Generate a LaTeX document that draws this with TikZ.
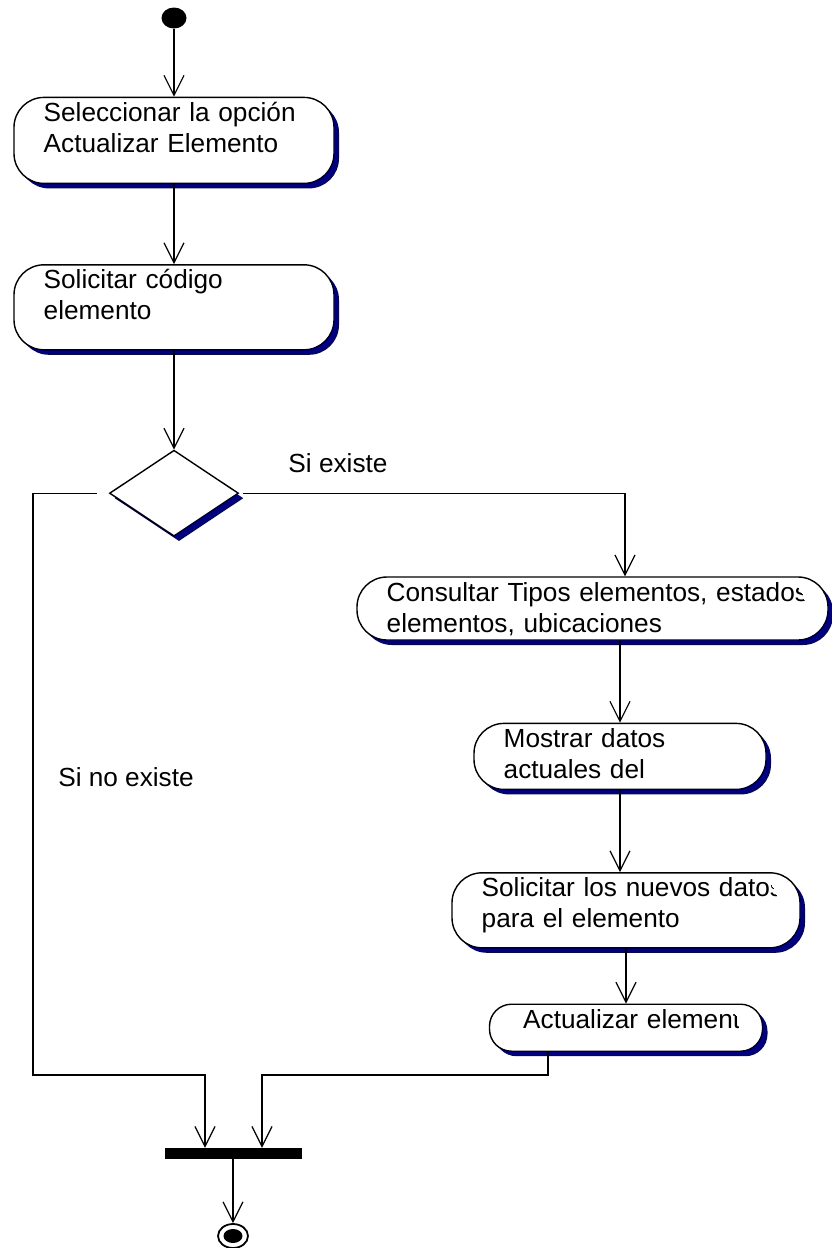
\documentclass[tikz,border=0pt]{standalone}
\usepackage{fontspec}
\setmainfont{Liberation Sans}
\usetikzlibrary{shapes.geometric, arrows.meta, positioning, shadows}
\definecolor{umlnavy}{HTML}{000080}

\begin{document}
\begin{tikzpicture}[x=1pt, y=1pt,
        txtx/.store in=\acttxtx, txtx=29pt,
        txtclip/.store in=\acttxtclip, txtclip=23pt,
        act/.style={rectangle, rounded corners=30pt, draw, line width=1.4pt, fill=white, inner sep=0pt, drop shadow={shadow xshift=5pt, shadow yshift=-5pt, fill=umlnavy, opacity=1}},
        acttext/.style={path picture={
            \clip (path picture bounding box.south west) rectangle ([xshift=-\acttxtclip]path picture bounding box.north east);
            \node[anchor=base west, inner sep=0pt, text width=20cm, align=left, font=\fontsize{26.2}{31}\selectfont] at ([shift={(\acttxtx,-24pt)}]path picture bounding box.north west) {#1};}},
        decision/.style={diamond, draw, line width=1.4pt, fill=white, inner sep=0pt, minimum width=129pt, minimum height=86pt, drop shadow={shadow xshift=5pt, shadow yshift=-5pt, fill=umlnavy, opacity=1}},
        bar/.style={rectangle, fill=black, inner sep=0pt, minimum width=137pt, minimum height=11pt},
        flow/.style={-{Straight Barb[length=20pt, width=20pt]}, line width=1.2pt},
        guard/.style={font=\fontsize{26.2}{31}\selectfont, inner sep=0pt}
    ]
    \useasboundingbox (0,0) rectangle (832,-1248);

    \node (start) [ellipse, fill=black, inner sep=0pt, minimum width=25pt, minimum height=21pt] at (174,-18) {};
    \node (sel) [act, acttext={Seleccionar la opción\\Actualizar Elemento}, minimum width=320pt, minimum height=86pt, below=68pt of start] {};
    \node (cod) [act, acttext={Solicitar código\\elemento}, minimum width=320pt, minimum height=85pt, below=80pt of sel] {};
    \node (dec) [decision, below=99pt of cod] {};

    \node (cons) [act, acttext={Consultar Tipos elementos, estados\\elementos, ubicaciones}, minimum width=471pt, minimum height=63pt] at (592.5,-608.5) {};
    \node (most) [act, acttext={Mostrar datos\\actuales del}, minimum width=292pt, minimum height=66pt, below=82pt of cons, xshift=27.5pt] {};
    \node (nuev) [act, acttext={Solicitar los nuevos datos\\para el elemento}, minimum width=348pt, minimum height=75pt, below=82pt of most, xshift=6pt] {};
    \node (upd) [act, rounded corners=22pt, txtx=33pt, txtclip=24pt, acttext={Actualizar elemento}, minimum width=273pt, minimum height=47pt, below=55pt of nuev] {};

    \node (join) [bar] at (233,-1153.5) {};
    \node (fin) [ellipse, draw, line width=1.8pt, inner sep=0pt, minimum width=30pt, minimum height=24pt] at (233,-1236) {};
    \node (finc) [ellipse, fill=black, inner sep=0pt, minimum width=19pt, minimum height=14pt] at (fin) {};

    \node (yes) [guard] at (338,-463) {Si existe};
    \node (no) [guard] at (126,-777) {Si no existe};

    \coordinate (lft) at (33,-1075);
    \coordinate (rgt) at (262,-1075);

    \draw [flow] (start) -- (sel);
    \draw [flow] (sel) -- (cod);
    \draw [flow] (cod) -- (dec);
    \draw [flow, shorten <=4pt] (dec.east) -| ([xshift=32.5pt]cons.north);
    \draw [flow] (cons.south -| most.north) -- (most.north);
    \draw [flow] (most.south) -- (most.south |- nuev.north);
    \draw [flow] (nuev.south) -- (nuev.south |- upd.north);
    \draw [flow, shorten <=12pt] (dec.west) -| (lft) -| ([xshift=-28pt]join.north);
    \draw [flow] ([xshift=-78pt]upd.south) |- (rgt) -- (rgt |- join.north);
    \draw [flow] (join) -- (fin);
\end{tikzpicture}
\end{document}
